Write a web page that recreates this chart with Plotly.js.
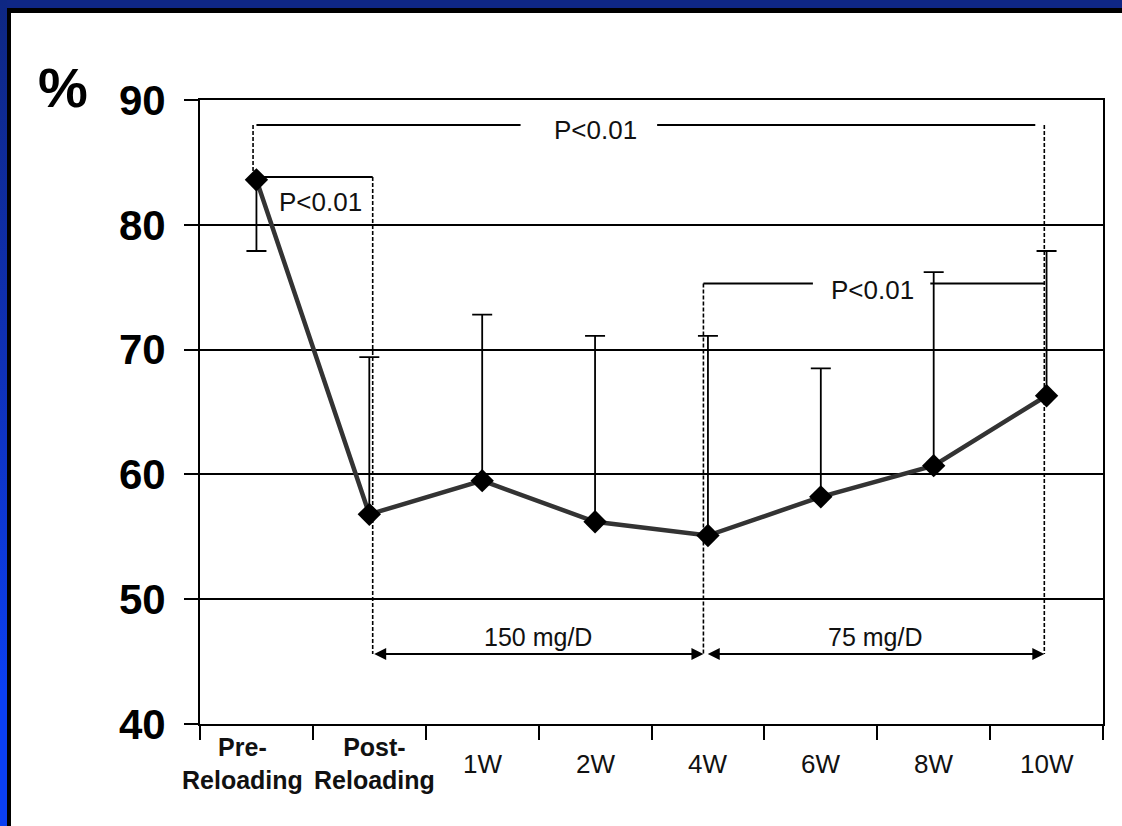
<!DOCTYPE html>
<html>
<head>
<meta charset="utf-8">
<script src="https://cdn.plot.ly/plotly-3.0.1.min.js"></script>
<style>
  html, body { margin:0; padding:0; width:100%; height:100%; overflow:hidden; background:#fff; }
  #topband { position:absolute; left:0; top:0; width:1400px; height:8px; background:#0f2785; }
  #leftband { position:absolute; left:0; top:0; width:7px; height:1000px;
              background:linear-gradient(to bottom, #0e2783 0px, #0f31b8 370px, #0b3ff2 690px, #0b3ff2 1000px); }
  #topline { position:absolute; left:7px; top:8px; width:1400px; height:5px; background:#000; }
  #leftline { position:absolute; left:7px; top:8px; width:4px; height:1000px; background:#000; }
  #chart { position:absolute; left:0; top:0; width:1122px; height:826px; }
</style>
</head>
<body>
<div id="topband"></div>
<div id="leftband"></div>
<div id="topline"></div>
<div id="leftline"></div>
<div id="chart"></div>
<script>
// ---- data ----
const categories = ['Pre-Reloading', 'Post-Reloading', '1W', '2W', '4W', '6W', '8W', '10W'];
const tickLabels = ['<b>Pre-<br>Reloading</b>', '<b>Post-<br>Reloading</b>', '1W', '2W', '4W', '6W', '8W', '10W'];
const meanValues = [83.6, 56.8, 59.5, 56.2, 55.1, 58.2, 60.7, 66.3];
const errUpper   = [0, 12.6, 13.3, 14.9, 16.0, 10.3, 15.5, 11.6];
const errLower   = [5.7, 0, 0, 0, 0, 0, 0, 0];
const yTicks     = [40, 50, 60, 70, 80, 90];
const pText      = 'P&lt;0.01';
const doseLabels = ['150 mg/D', '75 mg/D'];

const xIdx = categories.map((c, i) => i);
const FONT = 'Liberation Sans, Arial, Helvetica, sans-serif';

const trace = {
  x: xIdx, y: meanValues, type: 'scatter', mode: 'lines+markers',
  line: { color: '#333333', width: 4.5 },
  marker: { symbol: 'diamond', size: 18, color: '#000000' },
  error_y: { type: 'data', symmetric: false, array: errUpper, arrayminus: errLower,
             color: '#000000', thickness: 1.8, width: 10 },
  hoverinfo: 'skip', showlegend: false
};

// bracket / arrow levels (data units)
const yTop = 88.0, yPre = 83.83, yMid = 75.3, yArrow = 45.6;
const xPostLine = 1.03, x4WLine = 3.96, x10WLine = 6.98;

const solid = { color: '#000', width: 2 };
const dashed = { color: '#000', width: 1.6, dash: '4px,2px' };
function seg(x0, y0, x1, y1, line) {
  return { type: 'line', xref: 'x', yref: 'y', x0, y0, x1, y1, line, layer: 'above' };
}
const shapes = [
  // top bracket Pre -> 10W
  seg(0, yTop, 2.34, yTop, solid),
  seg(3.55, yTop, 6.90, yTop, solid),
  seg(-0.03, yTop, -0.03, meanValues[0], dashed),
  seg(x10WLine, yTop, x10WLine, yArrow, dashed),
  // Pre -> Post bracket
  seg(0.05, yPre, xPostLine, yPre, solid),
  seg(xPostLine, yPre, xPostLine, yArrow, dashed),
  // 4W -> 10W bracket
  seg(x4WLine, yMid, 4.93, yMid, solid),
  seg(5.97, yMid, x10WLine, yMid, solid),
  seg(x4WLine, yMid, x4WLine, yArrow, dashed)
];

const txtFont = { family: FONT, size: 26, color: '#111' };
const annotations = [
  { x: 3.0, y: 87.6, xref: 'x', yref: 'y', text: pText, showarrow: false, font: txtFont, xanchor: 'center', yanchor: 'middle' },
  { x: 0.567, y: 81.8, xref: 'x', yref: 'y', text: pText, showarrow: false, font: txtFont, xanchor: 'center', yanchor: 'middle' },
  { x: 5.457, y: 74.8, xref: 'x', yref: 'y', text: pText, showarrow: false, font: txtFont, xanchor: 'center', yanchor: 'middle' },
  // dose arrows
  { x: x4WLine, y: yArrow, ax: xPostLine, ay: yArrow, xref: 'x', yref: 'y', axref: 'x', ayref: 'y',
    text: '', showarrow: true, arrowside: 'end+start', arrowhead: 2, startarrowhead: 2,
    arrowsize: 1.2, startarrowsize: 1.2, arrowwidth: 2, arrowcolor: '#000', standoff: 0, startstandoff: 0 },
  { x: x10WLine, y: yArrow, ax: 3.985, ay: yArrow, xref: 'x', yref: 'y', axref: 'x', ayref: 'y',
    text: '', showarrow: true, arrowside: 'end+start', arrowhead: 2, startarrowhead: 2,
    arrowsize: 1.2, startarrowsize: 1.2, arrowwidth: 2, arrowcolor: '#000', standoff: 0, startstandoff: 0 },
  { x: (xPostLine + x4WLine) / 2, y: 47.0, xref: 'x', yref: 'y', text: doseLabels[0], showarrow: false,
    font: { family: FONT, size: 25, color: '#111' }, xanchor: 'center', yanchor: 'middle' },
  { x: (3.985 + x10WLine) / 2, y: 47.0, xref: 'x', yref: 'y', text: doseLabels[1], showarrow: false,
    font: { family: FONT, size: 25, color: '#111' }, xanchor: 'center', yanchor: 'middle' },
  // % unit label
  { x: -0.152, y: 1.02, xref: 'paper', yref: 'paper', text: '<b>%</b>', showarrow: false,
    font: { family: FONT, size: 56, color: '#000' }, xanchor: 'center', yanchor: 'middle' }
];
// category labels under the axis (the two bold ones sit slightly off-centre, as in the original)
const labelShift = [-0.12, 0.05, 0, 0, 0, 0, 0, 0];
tickLabels.forEach((t, i) => {
  annotations.push({ x: i + labelShift[i], y: -0.064, xref: 'x', yref: 'paper', text: t, showarrow: false,
    font: { family: FONT, size: i < 2 ? 25 : 26, color: '#111' }, xanchor: 'center', yanchor: 'middle' });
});

const layout = {
  width: 1122, height: 826,
  margin: { l: 200, r: 19, t: 100, b: 102 },
  paper_bgcolor: 'rgba(0,0,0,0)', plot_bgcolor: 'rgba(0,0,0,0)',
  font: { family: FONT, color: '#000' },
  xaxis: {
    range: [-0.5, categories.length - 0.5], tickmode: 'array',
    tickvals: categories.map((c, i) => i - 0.5).concat([categories.length - 0.5]),
    showticklabels: false, ticks: 'outside', ticklen: 14, tickwidth: 2, tickcolor: '#000',
    showline: true, mirror: true, linecolor: '#000', linewidth: 2, showgrid: false, zeroline: false, fixedrange: true
  },
  yaxis: {
    range: [40, 90], tickmode: 'array', tickvals: yTicks, ticktext: yTicks.map(v => '<b>' + v + '</b>'),
    tickfont: { family: FONT, size: 42, color: '#000' }, ticklabelstandoff: 10,
    ticks: 'outside', ticklen: 14, tickwidth: 2, tickcolor: '#000',
    showline: true, mirror: true, linecolor: '#000', linewidth: 2,
    showgrid: true, gridcolor: '#000', gridwidth: 2, zeroline: false, fixedrange: true
  },
  shapes, annotations
};

Plotly.newPlot('chart', [trace], layout, { staticPlot: true, displayModeBar: false });
</script>
</body>
</html>
